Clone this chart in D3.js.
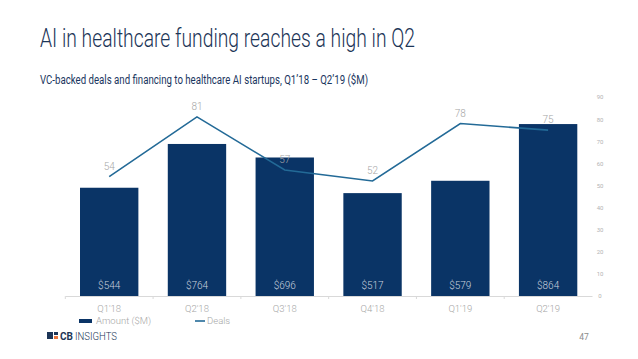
<!DOCTYPE html>
<html><head><meta charset="utf-8">
<script src="https://cdn.jsdelivr.net/npm/d3@7"></script>
<style>body{margin:0;background:#fff;}svg{display:block;}</style>
</head><body>
<svg id="c" width="638" height="359"></svg>
<script>
const categories = ["Q1'18","Q2'18","Q3'18","Q4'18","Q1'19","Q2'19"];
const amounts = [544, 764, 696, 517, 579, 864];
const deals = [54, 81, 57, 52, 78, 75];
const dealTicks = [0,10,20,30,40,50,60,70,80,90];
const amountLabels = ["$544","$764","$696","$517","$579","$864"];

const svg = d3.select("#c");
const font = "Roboto, 'Open Sans', sans-serif";

// Titles
svg.append("text").attr("x",40).attr("y",47)
  .attr("font-family",font).attr("font-weight",300).attr("font-size",25)
  .attr("fill","#1c3557").attr("textLength",375).attr("lengthAdjust","spacingAndGlyphs")
  .text("AI in healthcare funding reaches a high in Q2");
svg.append("text").attr("x",40).attr("y",84)
  .attr("font-family",font).attr("font-weight",400).attr("font-size",12.5)
  .attr("fill","#1a3660").attr("textLength",328).attr("lengthAdjust","spacingAndGlyphs")
  .text("VC-backed deals and financing to healthcare AI startups, Q1\u201918 \u2013 Q2\u201919 ($M)");

const x = d3.scaleBand().domain(categories).range([65.3,592]).paddingInner(0.335).paddingOuter(0.1675);
const yA = d3.scaleLinear().domain([0,1000]).range([296,97]);
const yD = d3.scaleLinear().domain([0,90]).range([296,97]);

// Bars
svg.selectAll("rect.bar").data(amounts).enter().append("rect")
  .attr("class","bar")
  .attr("x",(d,i)=>x(categories[i])).attr("width",x.bandwidth())
  .attr("y",d=>yA(d)).attr("height",d=>yA(0)-yA(d))
  .attr("fill","#0a3466");

// Bar labels
svg.selectAll("text.bl").data(amountLabels).enter().append("text")
  .attr("x",(d,i)=>x(categories[i])+x.bandwidth()/2).attr("y",289)
  .attr("text-anchor","middle").attr("font-family",font).attr("font-weight",300)
  .attr("font-size",10).attr("fill","#c9d1dd").text(d=>d);

// X axis
const xAxis = d3.axisBottom(x).tickSize(3).tickSizeOuter(0);
const gx = svg.append("g").attr("transform","translate(0,296)").call(xAxis);
gx.select(".domain").attr("stroke","#d9d9d9");
gx.selectAll(".tick line").attr("stroke","#d9d9d9")
  .attr("transform",`translate(${-x.step()/2},0)`);
gx.selectAll(".tick text").attr("font-family",font).attr("font-weight",300)
  .attr("font-size",9.5).attr("fill","#a6a6a6").attr("dy","1.1em");

// Right axis
const yAxis = d3.axisRight(yD).tickValues(dealTicks).tickSize(0).tickPadding(6);
const gy = svg.append("g").attr("transform","translate(592,0)").call(yAxis);
gy.select(".domain").remove();
gy.selectAll(".tick text").attr("font-family",font).attr("font-size",6)
  .attr("fill","#b3b3b3").attr("text-anchor","middle").attr("x",8);

// Line
const line = d3.line().x((d,i)=>x(categories[i])+x.bandwidth()/2).y(d=>yD(d));
svg.append("path").datum(deals).attr("d",line).attr("fill","none")
  .attr("stroke","#236a97").attr("stroke-width",1.6);

svg.selectAll("text.dl").data(deals).enter().append("text")
  .attr("x",(d,i)=>x(categories[i])+x.bandwidth()/2).attr("y",d=>yD(d)-7)
  .attr("text-anchor","middle").attr("font-family",font).attr("font-weight",300)
  .attr("font-size",10).attr("fill","#a6a6a6").text(d=>d);

// Legend
svg.append("rect").attr("x",79).attr("y",319).attr("width",13).attr("height",4).attr("fill","#0a3466");
svg.append("text").attr("x",96).attr("y",324).attr("font-family",font).attr("font-weight",300)
  .attr("font-size",9.5).attr("fill","#a6a6a6").text("Amount ($M)");
svg.append("line").attr("x1",195).attr("x2",205).attr("y1",321).attr("y2",321)
  .attr("stroke","#236a97").attr("stroke-width",1.6);
svg.append("text").attr("x",207).attr("y",324).attr("font-family",font).attr("font-weight",300)
  .attr("font-size",9.5).attr("fill","#a6a6a6").text("Deals");

// Logo
const lg = svg.append("g");
lg.append("rect").attr("x",47).attr("y",332).attr("width",6).attr("height",7).attr("fill","#1c3557");
lg.append("rect").attr("x",54).attr("y",332).attr("width",4).attr("height",3).attr("fill","#1c3557");
lg.append("rect").attr("x",54).attr("y",336).attr("width",4).attr("height",3).attr("fill","#e8743b");
lg.append("text").attr("x",60).attr("y",339.5).attr("font-family",font).attr("font-weight",700)
  .attr("font-size",10).attr("fill","#1c3557").text("CB");
lg.append("text").attr("x",75).attr("y",339.5).attr("font-family",font).attr("font-weight",300)
  .attr("font-size",10).attr("fill","#1c3557").attr("textLength",42).attr("lengthAdjust","spacingAndGlyphs").text("INSIGHTS");

svg.append("text").attr("x",584).attr("y",340).attr("text-anchor","middle").attr("font-family",font)
  .attr("font-size",8.5).attr("fill","#8c8c8c").text("47");
</script>
</body></html>
